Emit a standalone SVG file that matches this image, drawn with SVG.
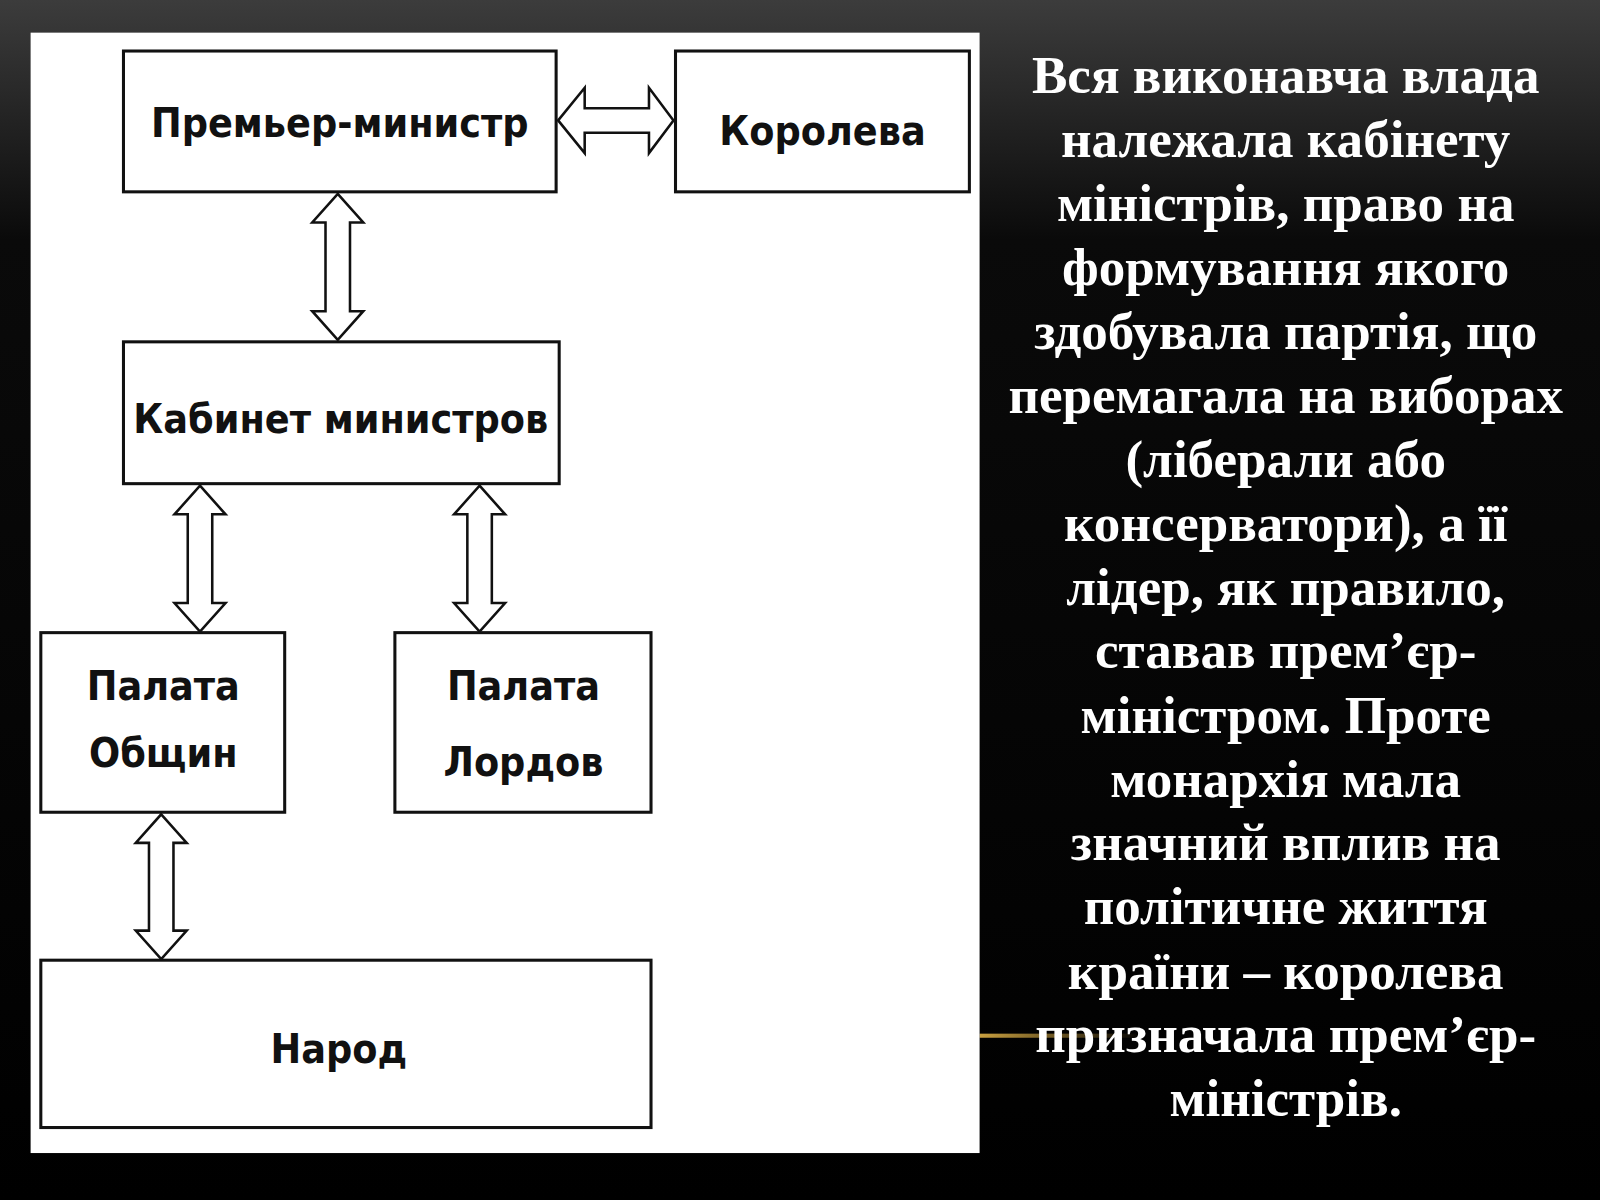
<svg xmlns="http://www.w3.org/2000/svg" width="1600" height="1200" viewBox="0 0 1600 1200">
<defs>
<linearGradient id="bg" x1="0" y1="0" x2="0" y2="1"><stop offset="0" stop-color="#3c3c3c"/><stop offset="0.2" stop-color="#0a0a0a"/><stop offset="1" stop-color="#000"/></linearGradient>
<linearGradient id="gold" x1="0" y1="0" x2="1" y2="0"><stop offset="0" stop-color="#c9a040"/><stop offset="1" stop-color="#c9a040" stop-opacity="0"/></linearGradient>
<style>
.box{fill:#fff;stroke:#111;stroke-width:3}
.arr{fill:#fff;stroke:#111;stroke-width:2.5}
.lbl{font-family:"DejaVu Sans Condensed","DejaVu Sans",sans-serif;font-weight:bold;font-size:40px;fill:#111;text-anchor:middle}
.txt{font-family:"Liberation Serif",serif;font-weight:bold;font-size:52px;fill:#fff;text-anchor:middle}
</style>
</defs>
<rect width="1600" height="1200" fill="url(#bg)"/>
<g transform="scale(1.0204)">
<rect x="960" y="1013" width="160" height="4" fill="url(#gold)"/>
<rect x="30" y="32" width="930" height="1098" fill="#fff"/>
<g id="premier"><rect class="box" x="121" y="50" width="424" height="138"/><text class="lbl" x="333" y="134">Премьер-министр</text></g>
<g id="queen"><rect class="box" x="662" y="50" width="288" height="138"/><text class="lbl" x="806" y="142">Королева</text></g>
<g id="cabinet"><rect class="box" x="121" y="335" width="427" height="139"/><text class="lbl" x="334" y="424">Кабинет министров</text></g>
<g id="commons"><rect class="box" x="40" y="620" width="239" height="176"/><text class="lbl" x="160" y="686">Палата</text><text class="lbl" x="160" y="752">Общин</text></g>
<g id="lords"><rect class="box" x="387" y="620" width="251" height="176"/><text class="lbl" x="513" y="686">Палата</text><text class="lbl" x="513" y="760">Лордов</text></g>
<g id="people"><rect class="box" x="40" y="941" width="598" height="164"/><text class="lbl" x="332" y="1042">Народ</text></g>
<g id="connectors">
<path class="arr" d="M547,118 L573,86 L573,106 L636,106 L636,86 L660,118 L636,150 L636,130 L573,130 L573,150 Z"/>
<path class="arr" d="M331,190 L356,218 L343,218 L343,305 L356,305 L331,333 L306,305 L319,305 L319,218 L306,218 Z"/>
<path class="arr" d="M196,476 L221,504 L208,504 L208,591 L221,591 L196,619 L171,591 L184,591 L184,504 L171,504 Z"/>
<path class="arr" d="M470,476 L495,504 L482,504 L482,591 L495,591 L470,619 L445,591 L458,591 L458,504 L445,504 Z"/>
<path class="arr" d="M158,798 L183,826 L170,826 L170,912 L183,912 L158,940 L133,912 L146,912 L146,826 L133,826 Z"/>
</g>
<g id="text">
<text class="txt" x="1260" y="91">Вся виконавча влада</text>
<text class="txt" x="1260" y="154">належала кабінету</text>
<text class="txt" x="1260" y="217">міністрів, право на</text>
<text class="txt" x="1260" y="279">формування якого</text>
<text class="txt" x="1260" y="342">здобувала партія, що</text>
<text class="txt" x="1260" y="405">перемагала на виборах</text>
<text class="txt" x="1260" y="467">(ліберали або</text>
<text class="txt" x="1260" y="530">консерватори), а її</text>
<text class="txt" x="1260" y="593">лідер, як правило,</text>
<text class="txt" x="1260" y="655">ставав прем’єр-</text>
<text class="txt" x="1260" y="718">міністром. Проте</text>
<text class="txt" x="1260" y="781">монархія мала</text>
<text class="txt" x="1260" y="843">значний вплив на</text>
<text class="txt" x="1260" y="906">політичне життя</text>
<text class="txt" x="1260" y="969">країни – королева</text>
<text class="txt" x="1260" y="1031">призначала прем’єр-</text>
<text class="txt" x="1260" y="1094">міністрів.</text>
</g>
</g>
</svg>
